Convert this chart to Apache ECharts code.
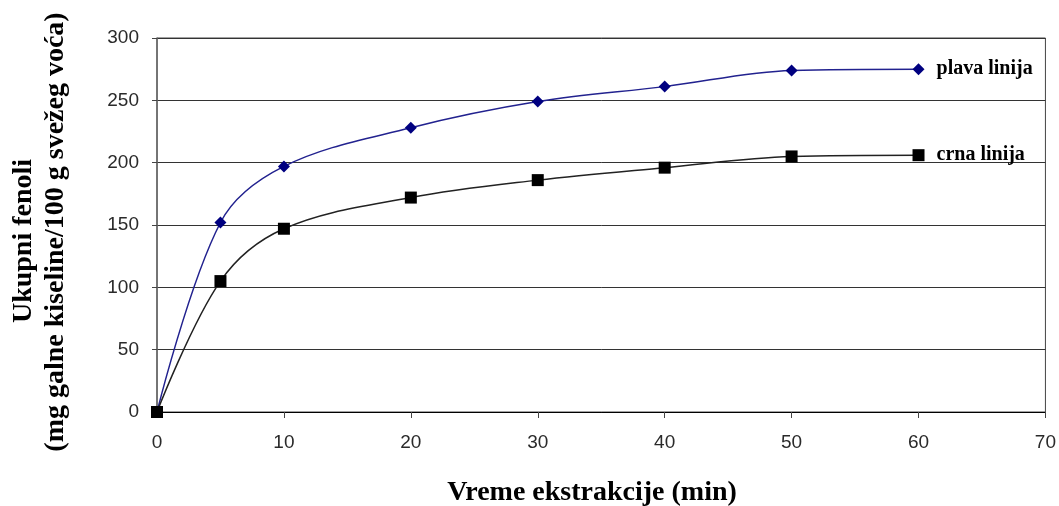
<!DOCTYPE html>
<html>
<head>
<meta charset="utf-8">
<script src="https://cdn.jsdelivr.net/npm/echarts@6/dist/echarts.min.js"></script>
<style>
html,body{margin:0;padding:0;background:#fff;}
#c{width:1059px;height:506px;}
</style>
</head>
<body>
<div id="c"></div>
<script>
var times = [0, 5, 10, 20, 30, 40, 50, 60];
var plavaValues = [0, 152, 197, 228, 249, 261, 274, 275];
var crnaValues = [0, 105, 147, 172, 186, 196, 205, 206];
var seriesNames = ['plava linija', 'crna linija'];
var xTitle = 'Vreme ekstrakcije (min)';
var yTitle1 = 'Ukupni fenoli';
var yTitle2 = '(mg galne kiseline/100 g svežeg voća)';

function buildData(vals, name) {
  return times.map(function (t, i) {
    var item = { value: [t, vals[i]] };
    if (i === times.length - 1) {
      item.label = {
        show: true, position: 'right', distance: 12,
        formatter: name,
        fontFamily: 'Liberation Serif', fontWeight: 'bold', fontSize: 20, color: '#000'
      };
    }
    return item;
  });
}

var chart = echarts.init(document.getElementById('c'), null, { renderer: 'canvas' });
chart.setOption({
  animation: false,
  backgroundColor: '#fff',
  grid: { left: 157, right: 13, top: 38, bottom: 94, show: true, borderColor: '#444', borderWidth: 1 },
  xAxis: {
    type: 'value', min: 0, max: 70, interval: 10,
    axisLine: { show: true, onZero: false, lineStyle: { color: '#000', width: 1 } },
    axisTick: { show: true, length: 6, lineStyle: { color: '#444' } },
    axisLabel: { fontFamily: 'Liberation Sans', fontSize: 19, color: '#2a2a2a', margin: 21 },
    splitLine: { show: false }
  },
  yAxis: {
    type: 'value', min: 0, max: 300, interval: 50,
    axisLine: { show: true, lineStyle: { color: '#666', width: 1.5 } },
    axisTick: { show: true, length: 5, lineStyle: { color: '#444' } },
    axisLabel: { fontFamily: 'Liberation Sans', fontSize: 19, color: '#2a2a2a', margin: 18 },
    splitLine: { show: true, lineStyle: { color: '#333', width: 1 } }
  },
  graphic: [
    {
      type: 'text', x: 592, y: 493,
      style: { text: xTitle, font: 'bold 28px "Liberation Serif"', fill: '#000', align: 'center', verticalAlign: 'middle' }
    },
    {
      type: 'text', x: 24, y: 241, rotation: Math.PI / 2,
      style: { text: yTitle1, font: 'bold 28px "Liberation Serif"', fill: '#000', align: 'center', verticalAlign: 'middle' }
    },
    {
      type: 'text', x: 56, y: 232, rotation: Math.PI / 2,
      style: { text: yTitle2, font: 'bold 28px "Liberation Serif"', fill: '#000', align: 'center', verticalAlign: 'middle' }
    }
  ],
  series: [
    {
      name: seriesNames[0], type: 'line', smooth: 0.35,
      data: buildData(plavaValues, seriesNames[0]),
      symbol: 'diamond', symbolSize: 12,
      lineStyle: { color: '#22228f', width: 1.5 },
      itemStyle: { color: '#000080' },
      z: 3
    },
    {
      name: seriesNames[1], type: 'line', smooth: 0.35,
      data: buildData(crnaValues, seriesNames[1]),
      symbol: 'rect', symbolSize: 12,
      lineStyle: { color: '#222', width: 1.5 },
      itemStyle: { color: '#000' },
      z: 4
    }
  ]
});
</script>
</body>
</html>
